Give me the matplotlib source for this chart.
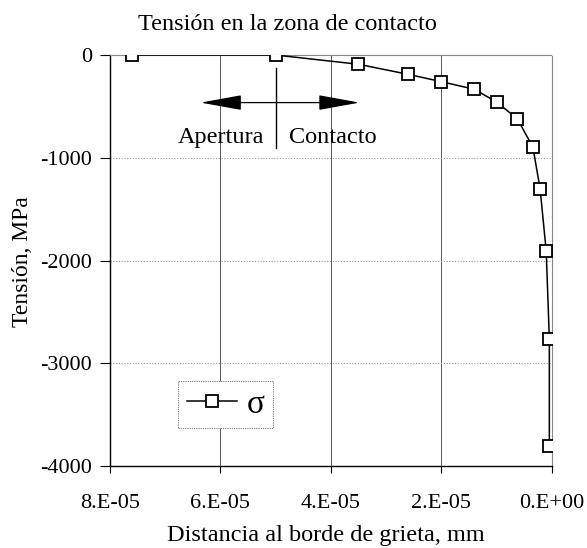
import matplotlib
matplotlib.use("Agg")
import matplotlib.pyplot as plt

plt.rcParams['font.family'] = ['Liberation Serif', 'DejaVu Serif']
plt.rcParams['axes.unicode_minus'] = False

# distance to crack edge (mm) and stress (MPa)
distancia = [7.6e-05, 5.0e-05, 3.5e-05, 2.6e-05, 2.0e-05, 1.4e-05, 9.9e-06,
             6.2e-06, 3.4e-06, 2.1e-06, 1.0e-06, 4.3e-07, 4.3e-07]
tension = [0, 0, -90, -188, -259, -334, -460, -623, -898, -1304, -1907,
           -2763, -3810]

x_ticks = [8e-05, 6e-05, 4e-05, 2e-05, 0.0]
x_labels = ['8.E-05', '6.E-05', '4.E-05', '2.E-05', '0.E+00']
y_ticks = [0, -1000, -2000, -3000, -4000]

fs = 16
fs_big = 17.5

fig = plt.figure(figsize=(5.87, 5.48), dpi=100)
ax = fig.add_axes([0.1874, 0.1496, 0.7525, 0.75])

ax.plot(distancia, tension, color='black', lw=1.1, marker='s', ms=8.6,
        mfc='white', mec='black', mew=1.3, label='σ', zorder=5)

ax.set_xlim(8e-05, 0)
ax.set_ylim(-4000, 0)
ax.set_xticks(x_ticks)
ax.set_xticklabels(x_labels)
ax.set_yticks(y_ticks)
ax.tick_params(labelsize=fs, direction='out', width=0.8)
ax.tick_params(axis='x', length=5, pad=15)
ax.tick_params(axis='y', length=7, pad=6)

# vertical grid solid, horizontal grid dotted
for xv in x_ticks[1:-1]:
    ax.axvline(xv, color='#555555', lw=0.7, zorder=1)
for yv in y_ticks[1:-1]:
    ax.axhline(yv, color='#999999', lw=0.8, ls=(0, (1, 1.5)), zorder=1)

for s in ['top', 'right']:
    ax.spines[s].set_color('#888888')
    ax.spines[s].set_linestyle((0, (1, 1)))
    ax.spines[s].set_linewidth(0.8)
for s in ['left', 'bottom']:
    ax.spines[s].set_linewidth(1.0)

# contact / opening marker
ax.plot([5e-05, 5e-05], [-126, -905], color='black', lw=1.0, zorder=4)
for x_end in [6.36e-05, 3.48e-05]:
    ax.annotate('', xy=(x_end, -463), xytext=(5e-05, -463),
                arrowprops=dict(arrowstyle='-|>,head_length=2.6,head_width=0.47',
                                mutation_scale=10, color='black', lw=0.9,
                                shrinkA=0, shrinkB=0))
ax.text(5.2e-05, -856, 'Apertura', ha='right', va='baseline', fontsize=fs_big)
ax.text(4.75e-05, -856, 'Contacto', ha='left', va='baseline', fontsize=fs_big)

leg = ax.legend(loc='center', bbox_to_anchor=(0.2615, 0.1495),
                fontsize=24, fancybox=False, framealpha=1,
                edgecolor='#777777', handlelength=1.5, borderpad=0.25,
                handletextpad=0.3)
leg.get_frame().set_linewidth(0.8)
leg.get_frame().set_linestyle((0, (1, 1)))

fig.text(0.4898, 0.9453, 'Tensión en la zona de contacto', ha='center',
         va='baseline', fontsize=fs_big)
fig.text(0.5545, 0.0135, 'Distancia al borde de grieta, mm', ha='center',
         va='baseline', fontsize=fs_big)
fig.text(0.0375, 0.522, 'Tensión, MPa', ha='center', va='center',
         rotation=90, fontsize=17)

fig.savefig('out.png', dpi=100)
